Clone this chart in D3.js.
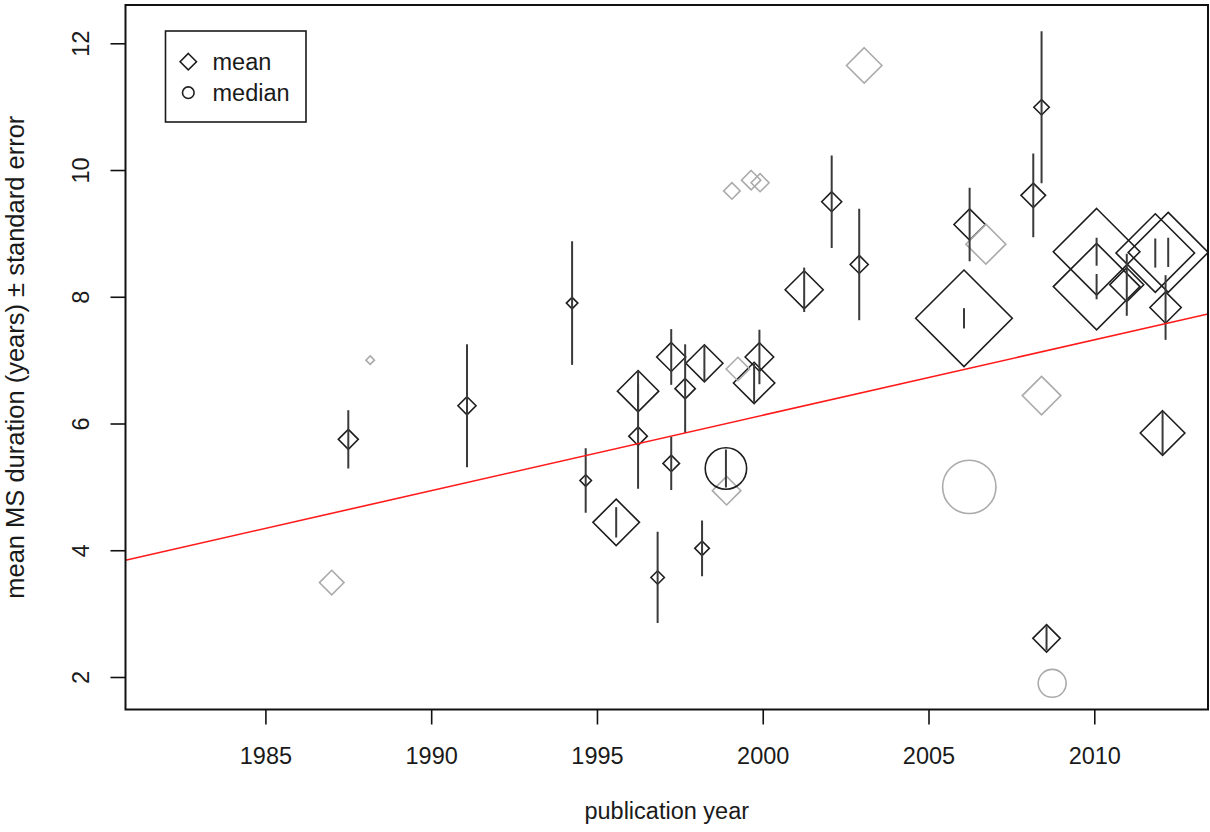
<!DOCTYPE html>
<html>
<head>
<meta charset="utf-8">
<script src="https://cdn.jsdelivr.net/npm/d3@7"></script>
<style>
  body { margin: 0; background: #fff; }
  svg { display: block; font-family: "Liberation Sans", Arial, sans-serif; }
</style>
</head>
<body>
<script>

// ---- data ----
// one entry per study: publication year, duration, SE (null = not reported), weight, statistic
var studyYear  = [1987.50, 1991.08, 1994.25, 1994.66, 1995.58, 1996.24, 1996.24, 1996.83, 1997.24, 1997.24,
                  1997.66, 1998.17, 1998.24, 1999.74, 1999.90, 2001.25, 2002.08, 2002.91, 2006.07, 2006.24,
                  2008.16, 2008.41, 2008.56, 2010.07, 2010.07, 2010.98, 2011.84, 2012.23, 2012.15, 2012.06,
                  1998.89,
                  1987.00, 1988.16, 1998.91, 1999.07, 1999.25, 1999.65, 1999.92, 2003.06, 2006.73, 2008.41,
                  2006.23, 2008.73];
var studyValue = [5.75, 6.28, 7.90, 5.10, 4.44, 6.51, 5.80, 3.57, 7.05, 5.37,
                  6.55, 4.03, 6.95, 6.64, 7.05, 8.11, 9.50, 8.51, 7.66, 9.14,
                  9.60, 10.99, 2.61, 8.71, 8.16, 8.19, 8.69, 8.70, 7.83, 5.85,
                  5.29,
                  3.49, 7.00, 4.94, 9.67, 6.86, 9.84, 9.80, 11.65, 8.83, 6.44,
                  5.00, 1.90];
var studySE    = [0.46, 0.97, 0.975, 0.51, 0.24, 0.32, 0.83, 0.72, 0.44, 0.42,
                  0.70, 0.44, 0.29, 0.30, 0.43, 0.35, 0.73, 0.88, 0.16, 0.58,
                  0.66, 1.20, 0.19, 0.22, 0.20, 0.49, 0.23, 0.23, 0.51, 0.34,
                  0.30,
                  null, null, null, null, null, null, null, null, null, null,
                  null, null];
var studyWeight = [1.22, 1.10, 0.70, 0.70, 2.84, 2.52, 1.13, 0.82, 1.77, 1.01,
                   1.24, 0.89, 2.26, 2.52, 1.74, 2.32, 1.22, 1.10, 5.89, 1.91,
                   1.50, 0.94, 1.67, 5.28, 5.28, 2.07, 4.79, 4.88, 1.91, 2.72,
                   3.57,
                   1.50, 0.52, 1.74, 1.01, 1.43, 1.18, 1.10, 2.16, 2.44, 2.35,
                   4.60, 2.41];
var studyStat  = ["mean", "mean", "mean", "mean", "mean", "mean", "mean", "mean", "mean", "mean",
                  "mean", "mean", "mean", "mean", "mean", "mean", "mean", "mean", "mean", "mean",
                  "mean", "mean", "mean", "mean", "mean", "mean", "mean", "mean", "mean", "mean",
                  "median",
                  "mean", "mean", "mean", "mean", "mean", "mean", "mean", "mean", "mean", "mean",
                  "median", "median"];

// linear fit drawn in red: value = fitAt2000 + fitSlope * (year - 2000)
var fitAt2000 = 6.13;
var fitSlope = 0.119;

var xTicks = [1985, 1990, 1995, 2000, 2005, 2010];
var yTicks = [2, 4, 6, 8, 10, 12];
var legendLabels = ["mean", "median"];

var xTitle = "publication year";
var yTitle = "mean MS duration (years) \u00B1 standard error";

// ---- layout ----
var W = 1210, H = 832;
var box = {left: 125.5, right: 1208, top: 5, bottom: 709.5};

var xScale = d3.scaleLinear().domain([1980.78, 2013.43]).range([box.left, box.right]);
var yScale = d3.scaleLinear().domain([1.487, 12.604]).range([box.bottom, box.top]);
var sizeScale = d3.scaleLinear().domain([0, 1]).range([0, 8.2]);   // weight -> diamond half diagonal

var dark = "#1e1e1e", grey = "#ababab";

var data = studyYear.map(function(y, i) {
    return {year: y, value: studyValue[i], se: studySE[i], w: studyWeight[i], stat: studyStat[i]};
});

var svg = d3.select("body").append("svg")
    .attr("width", W)
    .attr("height", H);

svg.append("defs").append("clipPath").attr("id", "plotclip")
  .append("rect")
    .attr("x", box.left).attr("y", box.top)
    .attr("width", box.right - box.left).attr("height", box.bottom - box.top);

function diamond(cx, cy, h) {
    return "M" + cx + "," + (cy - h) + "L" + (cx + h) + "," + cy +
           "L" + cx + "," + (cy + h) + "L" + (cx - h) + "," + cy + "Z";
}

// draws the axes with R-like ticks
function drawAxes() {
    var xAxis = d3.axisBottom(xScale).tickValues(xTicks).tickSize(15).tickPadding(0).tickFormat(d3.format("d"));
    var gx = svg.append("g")
        .attr("transform", "translate(0," + box.bottom + ")")
        .call(xAxis);
    gx.select(".domain").remove();
    gx.selectAll(".tick line").attr("stroke", "#111").attr("stroke-width", 1.6);
    gx.selectAll(".tick text")
        .attr("y", 54.8).attr("dy", null)
        .attr("font-size", "23.5px").attr("fill", "#1a1a1a")
        .attr("font-family", "Liberation Sans, Arial, sans-serif");

    var yAxis = d3.axisLeft(yScale).tickValues(yTicks).tickSize(15).tickFormat(d3.format("d"));
    var gy = svg.append("g")
        .attr("transform", "translate(" + box.left + ",0)")
        .call(yAxis);
    gy.select(".domain").remove();
    gy.selectAll(".tick line").attr("stroke", "#111").attr("stroke-width", 1.6);
    gy.selectAll(".tick text")
        .attr("x", null).attr("dy", null)
        .attr("text-anchor", "middle")
        .attr("transform", "translate(-36.5,0) rotate(-90)")
        .attr("font-size", "23.5px").attr("fill", "#1a1a1a")
        .attr("font-family", "Liberation Sans, Arial, sans-serif");

    // axis titles
    svg.append("text")
        .attr("x", (box.left + box.right) / 2).attr("y", 819.3)
        .attr("text-anchor", "middle")
        .attr("font-size", "23.5px").attr("fill", "#1a1a1a")
        .text(xTitle);
    svg.append("text")
        .attr("transform", "translate(23.5," + ((box.top + box.bottom) / 2) + ") rotate(-90)")
        .attr("text-anchor", "middle")
        .attr("font-size", "25.5px").attr("fill", "#1a1a1a")
        .text(yTitle);
}

// points, error bars and fitted line
function drawPoints() {
    var g = svg.append("g").attr("clip-path", "url(#plotclip)");

    g.selectAll("path.mk").data(data.filter(function(d) { return d.stat === "mean"; }))
      .enter().append("path")
        .attr("class", "mk")
        .attr("d", function(d) { return diamond(xScale(d.year), yScale(d.value), sizeScale(d.w)); })
        .attr("fill", "none")
        .attr("stroke", function(d) { return d.se === null ? grey : dark; })
        .attr("stroke-width", 1.6);

    g.selectAll("circle.mk").data(data.filter(function(d) { return d.stat === "median"; }))
      .enter().append("circle")
        .attr("class", "mk")
        .attr("cx", function(d) { return xScale(d.year); })
        .attr("cy", function(d) { return yScale(d.value); })
        .attr("r", function(d) { return sizeScale(d.w) / Math.SQRT2; })
        .attr("fill", "none")
        .attr("stroke", function(d) { return d.se === null ? grey : dark; })
        .attr("stroke-width", 1.6);

    g.selectAll("line.se").data(data.filter(function(d) { return d.se !== null; }))
      .enter().append("line")
        .attr("class", "se")
        .attr("x1", function(d) { return xScale(d.year); })
        .attr("x2", function(d) { return xScale(d.year); })
        .attr("y1", function(d) { return yScale(d.value + d.se); })
        .attr("y2", function(d) { return yScale(d.value - d.se); })
        .attr("stroke", "#3a3a3a")
        .attr("stroke-width", 2);

    var xd = xScale.domain();
    g.append("line")
        .attr("x1", xScale(xd[0])).attr("y1", yScale(fitAt2000 + fitSlope * (xd[0] - 2000)))
        .attr("x2", xScale(xd[1])).attr("y2", yScale(fitAt2000 + fitSlope * (xd[1] - 2000)))
        .attr("stroke", "#ff1a1a")
        .attr("stroke-width", 1.6);
}

function drawLegend() {
    var lg = svg.append("g");
    lg.append("rect")
        .attr("x", 165.5).attr("y", 31).attr("width", 140.5).attr("height", 91)
        .attr("fill", "#fff").attr("stroke", "#1a1a1a").attr("stroke-width", 1.6);

    var rows = legendLabels.map(function(l, i) { return {label: l, cy: 61.7 + i * 31}; });
    lg.append("path")
        .attr("d", diamond(188.3, rows[0].cy, sizeScale(1)))
        .attr("fill", "none").attr("stroke", dark).attr("stroke-width", 1.6);
    lg.append("circle")
        .attr("cx", 188.3).attr("cy", rows[1].cy).attr("r", sizeScale(1) / Math.SQRT2)
        .attr("fill", "none").attr("stroke", dark).attr("stroke-width", 1.6);
    lg.selectAll("text").data(rows).enter().append("text")
        .attr("x", 212.5)
        .attr("y", function(d) { return d.cy + 8.6; })
        .attr("font-size", "23.5px").attr("fill", "#1a1a1a")
        .text(function(d) { return d.label; });
}

drawAxes();
drawPoints();
drawLegend();

// plot frame
svg.append("rect")
    .attr("x", box.left).attr("y", box.top)
    .attr("width", box.right - box.left).attr("height", box.bottom - box.top)
    .attr("fill", "none").attr("stroke", "#111").attr("stroke-width", 2);

</script>
</body>
</html>
